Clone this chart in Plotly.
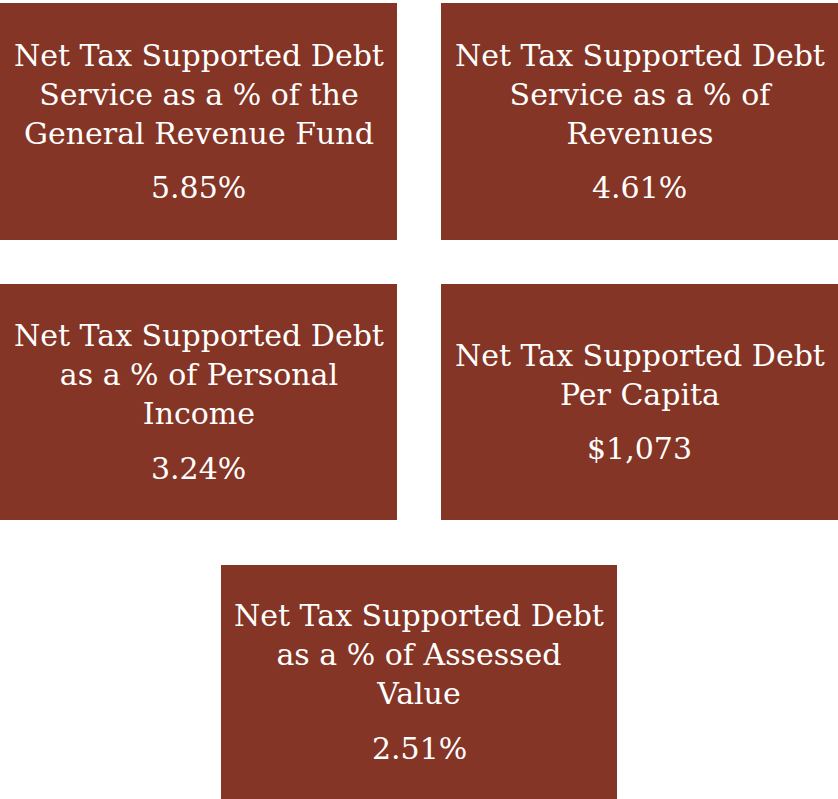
import plotly.graph_objects as go

titles = [
    "Net Tax Supported Debt<br>Service as a % of the<br>General Revenue Fund",
    "Net Tax Supported Debt<br>Service as a % of<br>Revenues",
    "Net Tax Supported Debt<br>as a % of Personal<br>Income",
    "Net Tax Supported Debt<br>Per Capita",
    "Net Tax Supported Debt<br>as a % of Assessed<br>Value",
]
values = ["5.85%", "4.61%", "3.24%", "$1,073", "2.51%"]

# box layout (x0, y0, x1, y1) in pixel space
boxes = [
    (0, 3, 397, 240),
    (441, 3, 838, 240),
    (0, 284, 397, 520),
    (441, 284, 838, 520),
    (221, 565, 617, 799),
]

COLOR = "#853525"
FONT = "DejaVu Serif"
FS = 30
LH = 39

fig = go.Figure()
shapes = []
annotations = []
for (x0, y0, x1, y1), t, v in zip(boxes, titles, values):
    shapes.append(dict(type="rect", x0=x0, x1=x1, y0=y0, y1=y1, xref="x", yref="y",
                       fillcolor=COLOR, line=dict(width=0), layer="below"))
    n = t.count("<br>") + 1
    cx = (x0 + x1) / 2
    cy = (y0 + y1) / 2
    tc = cy - 27.5
    vc = tc + n / 2 * LH + 35
    annotations.append(dict(x=cx, y=tc, xref="x", yref="y", text=t, showarrow=False,
                            xanchor="center", yanchor="middle", align="center",
                            font=dict(family=FONT, size=FS, color="white")))
    annotations.append(dict(x=cx, y=vc, xref="x", yref="y", text=v, showarrow=False,
                            xanchor="center", yanchor="middle", align="center",
                            font=dict(family=FONT, size=FS, color="white")))

fig.update_layout(
    width=838, height=799,
    margin=dict(l=0, r=0, t=0, b=0),
    paper_bgcolor="white", plot_bgcolor="white",
    shapes=shapes, annotations=annotations,
    xaxis=dict(range=[0, 838], visible=False, fixedrange=True),
    yaxis=dict(range=[799, 0], visible=False, fixedrange=True),
    showlegend=False,
)
fig.write_html("out.html", config={"displayModeBar": False})

with open("out.html", "r", encoding="utf-8") as f:
    html = f.read()
html = html.replace("<head>", "<head><style>html,body{margin:0;padding:0;overflow:hidden;}</style>", 1)
with open("out.html", "w", encoding="utf-8") as f:
    f.write(html)
